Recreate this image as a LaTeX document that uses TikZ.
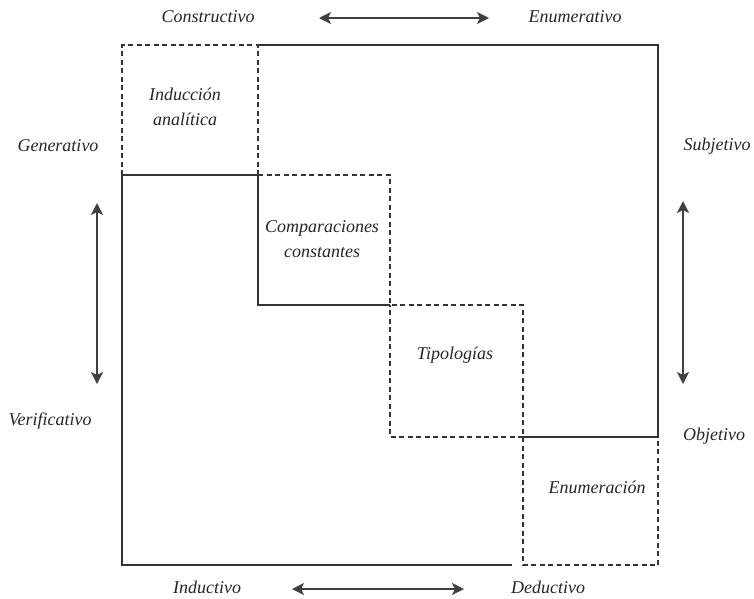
\documentclass[tikz,border=0pt]{standalone}
\usepackage{fontspec}
\setmainfont{Liberation Serif}
\usetikzlibrary{arrows.meta}
\begin{document}
\begin{tikzpicture}[x=1pt,y=-1pt,
  solidline/.style={line width=1.4pt,draw=black!80},
  dashline/.style={line width=1.2pt,draw=black!80,dash pattern=on 5pt off 3.5pt},
  lbl/.style={font=\fontsize{18}{20}\selectfont\itshape,text=black!85,inner sep=0pt},
  boxlbl/.style={font=\fontsize{18}{25}\selectfont\itshape,text=black!85,inner sep=0pt,align=center},
  dbl/.style={line width=1.8pt,draw=black!75,{Stealth[length=12pt,width=12pt,inset=3pt]}-{Stealth[length=12pt,width=12pt,inset=3pt]}}]
\useasboundingbox (0,0) rectangle (754,598);
% corner coordinates
\coordinate (a1) at (122,45);
\coordinate (a2) at (258,45);
\coordinate (a3) at (658,45);
\coordinate (b1) at (122,175);
\coordinate (b2) at (258,175);
\coordinate (b3) at (390,175);
\coordinate (c2) at (258,305);
\coordinate (c3) at (390,305);
\coordinate (c4) at (523,305);
\coordinate (d3) at (390,437);
\coordinate (d4) at (523,437);
\coordinate (d5) at (658,437);
\coordinate (e1) at (122,565);
\coordinate (e0) at (512,565);
\coordinate (e4) at (523,565);
\coordinate (e5) at (658,565);
% solid outline
\draw[solidline] (a2) -- (a3) -- (d5) -- (d4);
\draw[solidline] (b2) -- (b1) -- (e1) -- (e0);
\draw[solidline] (b2) -- (c2) -- (c3);
% dashed boxes
\draw[dashline] (b1) -- (a1) -- (a2) -- (b2);
\draw[dashline] (b2) -- (b3) -- (c3) -- (c4) -- (d4) -- (d3) -- (c3);
\draw[dashline] (d4) -- (e4) -- (e5) -- (d5);
% box labels
\node[boxlbl] (ia) at (185,107) {Inducción\\analítica};
\node[boxlbl] (cc) at (322,239) {Comparaciones\\constantes};
\node[boxlbl] (tp) at (455,355) {Tipologías};
\node[boxlbl] (en) at (597,487) {Enumeración};
% outer labels
\node[lbl] (con) at (208,17) {Constructivo};
\node[lbl] (enu) at (575,17) {Enumerativo};
\node[lbl] (gen) at (58,146) {Generativo};
\node[lbl] (ver) at (50,421) {Verificativo};
\node[lbl] (sub) at (717,146) {Subjetivo};
\node[lbl] (obj) at (714,436) {Objetivo};
\node[lbl] (ind) at (207,587) {Inductivo};
\node[lbl] (ded) at (548,587) {Deductivo};
% arrows
\coordinate (h1) at (319,18);
\coordinate (h2) at (489,18);
\coordinate (v1) at (97,203);
\coordinate (v2) at (97,384);
\coordinate (r1) at (683,201);
\coordinate (r2) at (683,384);
\coordinate (g1) at (292,589);
\coordinate (g2) at (464,589);
\draw[dbl] (h1) -- (h2);
\draw[dbl] (v1) -- (v2);
\draw[dbl] (r1) -- (r2);
\draw[dbl] (g1) -- (g2);
\end{tikzpicture}
\end{document}
